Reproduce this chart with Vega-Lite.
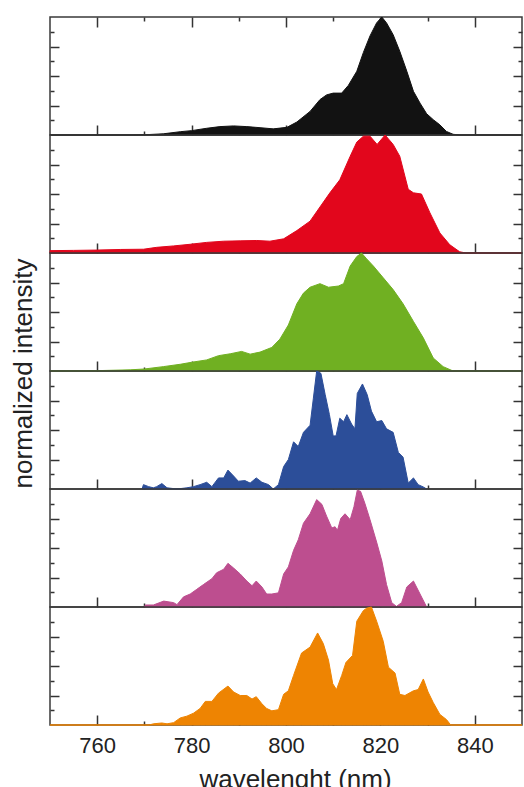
{
  "$schema": "https://vega.github.io/schema/vega-lite/v6.json",
  "background": "white",
  "padding": {"left": 11, "top": 14, "right": 1, "bottom": 0},
  "bounds": "flush",
  "title": {"text": "normalized intensity", "orient": "left", "anchor": "middle", "fontSize": 26, "font": "Liberation Sans", "fontWeight": "normal", "color": "#222222", "offset": 10, "dx": 30},
  "datasets": {
    "spectra": [
      {"p":1,"w":750,"v":0},{"p":1,"w":768,"v":0},{"p":1,"w":771,"v":0.004},{"p":1,"w":774,"v":0.01},{"p":1,"w":777.6,"v":0.028},{"p":1,"w":780,"v":0.037},{"p":1,"w":783.2,"v":0.057},{"p":1,"w":786,"v":0.071},{"p":1,"w":788.9,"v":0.077},{"p":1,"w":791.7,"v":0.071},{"p":1,"w":794.5,"v":0.062},{"p":1,"w":797.3,"v":0.052},{"p":1,"w":800.2,"v":0.065},{"p":1,"w":802.3,"v":0.11},{"p":1,"w":805.1,"v":0.2},{"p":1,"w":807.2,"v":0.3},{"p":1,"w":808.6,"v":0.34},{"p":1,"w":810,"v":0.355},{"p":1,"w":811.8,"v":0.355},{"p":1,"w":813.2,"v":0.42},{"p":1,"w":815,"v":0.54},{"p":1,"w":816.4,"v":0.7},{"p":1,"w":817.8,"v":0.84},{"p":1,"w":819.2,"v":0.95},{"p":1,"w":820.3,"v":1.0},{"p":1,"w":821.3,"v":0.95},{"p":1,"w":822.7,"v":0.85},{"p":1,"w":824.1,"v":0.71},{"p":1,"w":825.6,"v":0.54},{"p":1,"w":827,"v":0.37},{"p":1,"w":828.4,"v":0.27},{"p":1,"w":829.8,"v":0.18},{"p":1,"w":831.2,"v":0.13},{"p":1,"w":832.6,"v":0.086},{"p":1,"w":834,"v":0.03},{"p":1,"w":835.4,"v":0.006},{"p":1,"w":836.8,"v":0},{"p":1,"w":850,"v":0},

      {"p":2,"w":750,"v":0.02},{"p":2,"w":755,"v":0.022},{"p":2,"w":760,"v":0.025},{"p":2,"w":765,"v":0.03},{"p":2,"w":769.8,"v":0.032},{"p":2,"w":772.6,"v":0.048},{"p":2,"w":776.2,"v":0.06},{"p":2,"w":779.7,"v":0.074},{"p":2,"w":783.2,"v":0.09},{"p":2,"w":786.8,"v":0.1},{"p":2,"w":790.3,"v":0.103},{"p":2,"w":793.8,"v":0.106},{"p":2,"w":796.6,"v":0.1},{"p":2,"w":799.5,"v":0.12},{"p":2,"w":802.3,"v":0.19},{"p":2,"w":805.1,"v":0.27},{"p":2,"w":807.2,"v":0.39},{"p":2,"w":809.3,"v":0.51},{"p":2,"w":811.4,"v":0.62},{"p":2,"w":813.6,"v":0.82},{"p":2,"w":815,"v":0.94},{"p":2,"w":816.4,"v":0.99},{"p":2,"w":817.8,"v":0.99},{"p":2,"w":819.3,"v":0.92},{"p":2,"w":821,"v":1.0},{"p":2,"w":822.7,"v":0.92},{"p":2,"w":824.1,"v":0.82},{"p":2,"w":825.9,"v":0.54},{"p":2,"w":827,"v":0.51},{"p":2,"w":828.7,"v":0.5},{"p":2,"w":830.5,"v":0.34},{"p":2,"w":832.6,"v":0.17},{"p":2,"w":834.7,"v":0.07},{"p":2,"w":836.8,"v":0.01},{"p":2,"w":838.2,"v":0},{"p":2,"w":850,"v":0},

      {"p":3,"w":750,"v":0},{"p":3,"w":760,"v":0.003},{"p":3,"w":767,"v":0.01},{"p":3,"w":770,"v":0.017},{"p":3,"w":774,"v":0.037},{"p":3,"w":777.6,"v":0.057},{"p":3,"w":780,"v":0.074},{"p":3,"w":783.2,"v":0.094},{"p":3,"w":785.7,"v":0.13},{"p":3,"w":788.2,"v":0.146},{"p":3,"w":790.6,"v":0.166},{"p":3,"w":792.4,"v":0.143},{"p":3,"w":794.5,"v":0.16},{"p":3,"w":797,"v":0.2},{"p":3,"w":798.7,"v":0.27},{"p":3,"w":800.5,"v":0.39},{"p":3,"w":802.3,"v":0.57},{"p":3,"w":803.7,"v":0.66},{"p":3,"w":805.1,"v":0.71},{"p":3,"w":807.2,"v":0.74},{"p":3,"w":809,"v":0.71},{"p":3,"w":811.1,"v":0.72},{"p":3,"w":812.2,"v":0.74},{"p":3,"w":813.6,"v":0.89},{"p":3,"w":815,"v":0.97},{"p":3,"w":816,"v":1.0},{"p":3,"w":817.1,"v":0.95},{"p":3,"w":818.5,"v":0.89},{"p":3,"w":820.6,"v":0.79},{"p":3,"w":822.7,"v":0.69},{"p":3,"w":824.8,"v":0.57},{"p":3,"w":827,"v":0.42},{"p":3,"w":829.1,"v":0.28},{"p":3,"w":831.2,"v":0.11},{"p":3,"w":833.3,"v":0.037},{"p":3,"w":835.4,"v":0},{"p":3,"w":850,"v":0},

      {"p":4,"w":769.5,"v":0},{"p":4,"w":769.8,"v":0.037},{"p":4,"w":770.9,"v":0.02},{"p":4,"w":771.9,"v":0.01},{"p":4,"w":772.6,"v":0.02},{"p":4,"w":773.7,"v":0.046},{"p":4,"w":774.8,"v":0.01},{"p":4,"w":776.9,"v":0},{"p":4,"w":779,"v":0.01},{"p":4,"w":780.4,"v":0.02},{"p":4,"w":781.8,"v":0.037},{"p":4,"w":783.2,"v":0.057},{"p":4,"w":784.3,"v":0.02},{"p":4,"w":785.7,"v":0.094},{"p":4,"w":786.8,"v":0.094},{"p":4,"w":787.7,"v":0.16},{"p":4,"w":788.9,"v":0.11},{"p":4,"w":789.9,"v":0.066},{"p":4,"w":791.3,"v":0.071},{"p":4,"w":792.4,"v":0.05},{"p":4,"w":793.7,"v":0.094},{"p":4,"w":794.9,"v":0.057},{"p":4,"w":796.3,"v":0.037},{"p":4,"w":797.3,"v":0},{"p":4,"w":798.4,"v":0.037},{"p":4,"w":799.5,"v":0.19},{"p":4,"w":800.5,"v":0.25},{"p":4,"w":801.6,"v":0.4},{"p":4,"w":802.6,"v":0.36},{"p":4,"w":803.7,"v":0.48},{"p":4,"w":805.1,"v":0.54},{"p":4,"w":805.8,"v":0.77},{"p":4,"w":806.5,"v":1.0},{"p":4,"w":807.4,"v":0.98},{"p":4,"w":808.3,"v":0.8},{"p":4,"w":809.2,"v":0.63},{"p":4,"w":810,"v":0.45},{"p":4,"w":810.6,"v":0.45},{"p":4,"w":811.4,"v":0.6},{"p":4,"w":812.2,"v":0.57},{"p":4,"w":812.9,"v":0.63},{"p":4,"w":813.9,"v":0.55},{"p":4,"w":814.6,"v":0.51},{"p":4,"w":815.1,"v":0.81},{"p":4,"w":816.2,"v":0.89},{"p":4,"w":817.2,"v":0.8},{"p":4,"w":818.1,"v":0.66},{"p":4,"w":819.2,"v":0.57},{"p":4,"w":820.3,"v":0.58},{"p":4,"w":821.3,"v":0.51},{"p":4,"w":822.7,"v":0.48},{"p":4,"w":823.8,"v":0.31},{"p":4,"w":824.8,"v":0.27},{"p":4,"w":825.9,"v":0.05},{"p":4,"w":827,"v":0.094},{"p":4,"w":828,"v":0.037},{"p":4,"w":829.1,"v":0.017},{"p":4,"w":829.8,"v":0},

      {"p":5,"w":770,"v":0},{"p":5,"w":770.2,"v":0.017},{"p":5,"w":771.9,"v":0.017},{"p":5,"w":774.1,"v":0.05},{"p":5,"w":776.2,"v":0.037},{"p":5,"w":776.9,"v":0.02},{"p":5,"w":778.3,"v":0.086},{"p":5,"w":779.7,"v":0.11},{"p":5,"w":781.1,"v":0.15},{"p":5,"w":782.5,"v":0.19},{"p":5,"w":784.3,"v":0.24},{"p":5,"w":785.3,"v":0.29},{"p":5,"w":786.8,"v":0.32},{"p":5,"w":787.7,"v":0.37},{"p":5,"w":788.9,"v":0.33},{"p":5,"w":790.3,"v":0.28},{"p":5,"w":791.7,"v":0.22},{"p":5,"w":792.8,"v":0.18},{"p":5,"w":793.7,"v":0.22},{"p":5,"w":794.9,"v":0.17},{"p":5,"w":795.9,"v":0.11},{"p":5,"w":797,"v":0.11},{"p":5,"w":798.4,"v":0.12},{"p":5,"w":799.5,"v":0.28},{"p":5,"w":800.5,"v":0.34},{"p":5,"w":801.6,"v":0.48},{"p":5,"w":802.6,"v":0.57},{"p":5,"w":803.7,"v":0.71},{"p":5,"w":805.1,"v":0.79},{"p":5,"w":806.5,"v":0.91},{"p":5,"w":807.6,"v":0.87},{"p":5,"w":808.6,"v":0.77},{"p":5,"w":809.7,"v":0.67},{"p":5,"w":810.4,"v":0.68},{"p":5,"w":810.9,"v":0.65},{"p":5,"w":811.6,"v":0.75},{"p":5,"w":812.5,"v":0.79},{"p":5,"w":813.6,"v":0.74},{"p":5,"w":814.4,"v":0.85},{"p":5,"w":815.1,"v":0.99},{"p":5,"w":815.8,"v":0.98},{"p":5,"w":816.7,"v":0.88},{"p":5,"w":817.8,"v":0.74},{"p":5,"w":819.2,"v":0.55},{"p":5,"w":820.3,"v":0.39},{"p":5,"w":821.3,"v":0.19},{"p":5,"w":822.4,"v":0.037},{"p":5,"w":823.4,"v":0.005},{"p":5,"w":824.5,"v":0.037},{"p":5,"w":825.6,"v":0.17},{"p":5,"w":827,"v":0.22},{"p":5,"w":828.4,"v":0.11},{"p":5,"w":829.8,"v":0},

      {"p":6,"w":750,"v":0},{"p":6,"w":771,"v":0},{"p":6,"w":771.9,"v":0.01},{"p":6,"w":773.7,"v":0.017},{"p":6,"w":774.8,"v":0.01},{"p":6,"w":776.2,"v":0.02},{"p":6,"w":777.6,"v":0.06},{"p":6,"w":779,"v":0.075},{"p":6,"w":780.4,"v":0.1},{"p":6,"w":781.8,"v":0.14},{"p":6,"w":782.9,"v":0.2},{"p":6,"w":784.3,"v":0.2},{"p":6,"w":785.7,"v":0.27},{"p":6,"w":787.7,"v":0.33},{"p":6,"w":788.9,"v":0.28},{"p":6,"w":790.3,"v":0.25},{"p":6,"w":791.7,"v":0.25},{"p":6,"w":792.8,"v":0.22},{"p":6,"w":793.7,"v":0.24},{"p":6,"w":794.9,"v":0.18},{"p":6,"w":795.9,"v":0.14},{"p":6,"w":797,"v":0.12},{"p":6,"w":798.4,"v":0.13},{"p":6,"w":799.5,"v":0.26},{"p":6,"w":800.5,"v":0.29},{"p":6,"w":801.6,"v":0.42},{"p":6,"w":803.3,"v":0.61},{"p":6,"w":805.1,"v":0.66},{"p":6,"w":806.7,"v":0.78},{"p":6,"w":807.9,"v":0.69},{"p":6,"w":809,"v":0.55},{"p":6,"w":809.9,"v":0.35},{"p":6,"w":810.7,"v":0.3},{"p":6,"w":811.8,"v":0.42},{"p":6,"w":812.7,"v":0.53},{"p":6,"w":814.1,"v":0.59},{"p":6,"w":815,"v":0.88},{"p":6,"w":816.4,"v":0.97},{"p":6,"w":817.1,"v":0.99},{"p":6,"w":818.1,"v":1.0},{"p":6,"w":819.2,"v":0.88},{"p":6,"w":820.6,"v":0.71},{"p":6,"w":821.7,"v":0.49},{"p":6,"w":823.1,"v":0.44},{"p":6,"w":824.1,"v":0.26},{"p":6,"w":825.2,"v":0.25},{"p":6,"w":827,"v":0.29},{"p":6,"w":828,"v":0.3},{"p":6,"w":829.1,"v":0.39},{"p":6,"w":830.1,"v":0.28},{"p":6,"w":831.2,"v":0.19},{"p":6,"w":832.6,"v":0.09},{"p":6,"w":834,"v":0.046},{"p":6,"w":834.9,"v":0},{"p":6,"w":850,"v":0}
    ]
  },
  "data": {"name": "spectra"},
  "spacing": 0,
  "vconcat": [
    {
      "width": 472, "height": 118,
      "transform": [{"filter": "datum.p == 1"}],
      "layer": [
        {"mark": {"type": "area", "color": "#121212", "stroke": "#121212", "strokeWidth": 1},
         "encoding": {"x": {"field": "w", "type": "quantitative", "scale": {"domain": [750, 850], "nice": false, "zero": false}, "axis": {"orient": "bottom", "values": [760, 780, 800, 820, 840], "tickSize": -10, "labels": false, "title": null}},
                      "y": {"field": "v", "type": "quantitative", "scale": {"domain": [0, 1], "nice": false}, "axis": {"orient": "left", "values": [0.25, 0.5, 0.75], "tickSize": -9, "labels": false, "title": null}}}},
        {"mark": {"type": "area", "opacity": 0},
         "encoding": {"x": {"field": "w", "type": "quantitative", "axis": {"orient": "bottom", "values": [770, 790, 810, 830], "tickSize": -4, "labels": false, "title": null}},
                      "y": {"field": "v", "type": "quantitative", "axis": {"orient": "left", "values": [0.125, 0.375, 0.625, 0.875], "tickSize": -4, "labels": false, "title": null}}}},
        {"mark": {"type": "area", "opacity": 0},
         "encoding": {"x": {"field": "w", "type": "quantitative", "axis": {"orient": "top", "values": [760, 780, 800, 820, 840], "tickSize": -10, "labels": false, "title": null}},
                      "y": {"field": "v", "type": "quantitative", "axis": {"orient": "right", "values": [0.25, 0.5, 0.75], "tickSize": -9, "labels": false, "title": null}}}},
        {"mark": {"type": "area", "opacity": 0},
         "encoding": {"x": {"field": "w", "type": "quantitative", "axis": {"orient": "top", "values": [770, 790, 810, 830], "tickSize": -4, "labels": false, "title": null}},
                      "y": {"field": "v", "type": "quantitative", "axis": {"orient": "right", "values": [0.125, 0.375, 0.625, 0.875], "tickSize": -4, "labels": false, "title": null}}}}
      ],
      "resolve": {"axis": {"x": "independent", "y": "independent"}}
    },
    {
      "width": 472, "height": 118,
      "transform": [{"filter": "datum.p == 2"}],
      "layer": [
        {"mark": {"type": "area", "color": "#e2061c", "stroke": "#e2061c", "strokeWidth": 1},
         "encoding": {"x": {"field": "w", "type": "quantitative", "scale": {"domain": [750, 850], "nice": false, "zero": false}, "axis": {"orient": "bottom", "values": [760, 780, 800, 820, 840], "tickSize": -10, "labels": false, "title": null}},
                      "y": {"field": "v", "type": "quantitative", "scale": {"domain": [0, 1], "nice": false}, "axis": {"orient": "left", "values": [0.25, 0.5, 0.75], "tickSize": -9, "labels": false, "title": null}}}},
        {"mark": {"type": "area", "opacity": 0},
         "encoding": {"x": {"field": "w", "type": "quantitative", "axis": {"orient": "bottom", "values": [770, 790, 810, 830], "tickSize": -4, "labels": false, "title": null}},
                      "y": {"field": "v", "type": "quantitative", "axis": {"orient": "left", "values": [0.125, 0.375, 0.625, 0.875], "tickSize": -4, "labels": false, "title": null}}}},
        {"mark": {"type": "area", "opacity": 0},
         "encoding": {"x": {"field": "w", "type": "quantitative", "axis": null},
                      "y": {"field": "v", "type": "quantitative", "axis": {"orient": "right", "values": [0.25, 0.5, 0.75], "tickSize": -9, "labels": false, "title": null}}}},
        {"mark": {"type": "area", "opacity": 0},
         "encoding": {"x": {"field": "w", "type": "quantitative", "axis": null},
                      "y": {"field": "v", "type": "quantitative", "axis": {"orient": "right", "values": [0.125, 0.375, 0.625, 0.875], "tickSize": -4, "labels": false, "title": null}}}}
      ],
      "resolve": {"axis": {"x": "independent", "y": "independent"}}
    },
    {
      "width": 472, "height": 118,
      "transform": [{"filter": "datum.p == 3"}],
      "layer": [
        {"mark": {"type": "area", "color": "#70b022", "stroke": "#70b022", "strokeWidth": 1},
         "encoding": {"x": {"field": "w", "type": "quantitative", "scale": {"domain": [750, 850], "nice": false, "zero": false}, "axis": {"orient": "bottom", "values": [760, 780, 800, 820, 840], "tickSize": -10, "labels": false, "title": null}},
                      "y": {"field": "v", "type": "quantitative", "scale": {"domain": [0, 1], "nice": false}, "axis": {"orient": "left", "values": [0.25, 0.5, 0.75], "tickSize": -9, "labels": false, "title": null}}}},
        {"mark": {"type": "area", "opacity": 0},
         "encoding": {"x": {"field": "w", "type": "quantitative", "axis": {"orient": "bottom", "values": [770, 790, 810, 830], "tickSize": -4, "labels": false, "title": null}},
                      "y": {"field": "v", "type": "quantitative", "axis": {"orient": "left", "values": [0.125, 0.375, 0.625, 0.875], "tickSize": -4, "labels": false, "title": null}}}},
        {"mark": {"type": "area", "opacity": 0},
         "encoding": {"x": {"field": "w", "type": "quantitative", "axis": null},
                      "y": {"field": "v", "type": "quantitative", "axis": {"orient": "right", "values": [0.25, 0.5, 0.75], "tickSize": -9, "labels": false, "title": null}}}},
        {"mark": {"type": "area", "opacity": 0},
         "encoding": {"x": {"field": "w", "type": "quantitative", "axis": null},
                      "y": {"field": "v", "type": "quantitative", "axis": {"orient": "right", "values": [0.125, 0.375, 0.625, 0.875], "tickSize": -4, "labels": false, "title": null}}}}
      ],
      "resolve": {"axis": {"x": "independent", "y": "independent"}}
    },
    {
      "width": 472, "height": 118,
      "transform": [{"filter": "datum.p == 4"}],
      "layer": [
        {"mark": {"type": "area", "color": "#2c4e99", "stroke": "#2c4e99", "strokeWidth": 1},
         "encoding": {"x": {"field": "w", "type": "quantitative", "scale": {"domain": [750, 850], "nice": false, "zero": false}, "axis": {"orient": "bottom", "values": [760, 780, 800, 820, 840], "tickSize": -10, "labels": false, "title": null}},
                      "y": {"field": "v", "type": "quantitative", "scale": {"domain": [0, 1], "nice": false}, "axis": {"orient": "left", "values": [0.25, 0.5, 0.75], "tickSize": -9, "labels": false, "title": null}}}},
        {"mark": {"type": "area", "opacity": 0},
         "encoding": {"x": {"field": "w", "type": "quantitative", "axis": {"orient": "bottom", "values": [770, 790, 810, 830], "tickSize": -4, "labels": false, "title": null}},
                      "y": {"field": "v", "type": "quantitative", "axis": {"orient": "left", "values": [0.125, 0.375, 0.625, 0.875], "tickSize": -4, "labels": false, "title": null}}}},
        {"mark": {"type": "area", "opacity": 0},
         "encoding": {"x": {"field": "w", "type": "quantitative", "axis": null},
                      "y": {"field": "v", "type": "quantitative", "axis": {"orient": "right", "values": [0.25, 0.5, 0.75], "tickSize": -9, "labels": false, "title": null}}}},
        {"mark": {"type": "area", "opacity": 0},
         "encoding": {"x": {"field": "w", "type": "quantitative", "axis": null},
                      "y": {"field": "v", "type": "quantitative", "axis": {"orient": "right", "values": [0.125, 0.375, 0.625, 0.875], "tickSize": -4, "labels": false, "title": null}}}}
      ],
      "resolve": {"axis": {"x": "independent", "y": "independent"}}
    },
    {
      "width": 472, "height": 118,
      "transform": [{"filter": "datum.p == 5"}],
      "layer": [
        {"mark": {"type": "area", "color": "#bd4e8f", "stroke": "#bd4e8f", "strokeWidth": 1},
         "encoding": {"x": {"field": "w", "type": "quantitative", "scale": {"domain": [750, 850], "nice": false, "zero": false}, "axis": {"orient": "bottom", "values": [760, 780, 800, 820, 840], "tickSize": -10, "labels": false, "title": null}},
                      "y": {"field": "v", "type": "quantitative", "scale": {"domain": [0, 1], "nice": false}, "axis": {"orient": "left", "values": [0.25, 0.5, 0.75], "tickSize": -9, "labels": false, "title": null}}}},
        {"mark": {"type": "area", "opacity": 0},
         "encoding": {"x": {"field": "w", "type": "quantitative", "axis": {"orient": "bottom", "values": [770, 790, 810, 830], "tickSize": -4, "labels": false, "title": null}},
                      "y": {"field": "v", "type": "quantitative", "axis": {"orient": "left", "values": [0.125, 0.375, 0.625, 0.875], "tickSize": -4, "labels": false, "title": null}}}},
        {"mark": {"type": "area", "opacity": 0},
         "encoding": {"x": {"field": "w", "type": "quantitative", "axis": null},
                      "y": {"field": "v", "type": "quantitative", "axis": {"orient": "right", "values": [0.25, 0.5, 0.75], "tickSize": -9, "labels": false, "title": null}}}},
        {"mark": {"type": "area", "opacity": 0},
         "encoding": {"x": {"field": "w", "type": "quantitative", "axis": null},
                      "y": {"field": "v", "type": "quantitative", "axis": {"orient": "right", "values": [0.125, 0.375, 0.625, 0.875], "tickSize": -4, "labels": false, "title": null}}}}
      ],
      "resolve": {"axis": {"x": "independent", "y": "independent"}}
    },
    {
      "width": 472, "height": 118,
      "transform": [{"filter": "datum.p == 6"}],
      "layer": [
        {"mark": {"type": "area", "color": "#ee8402", "stroke": "#ee8402", "strokeWidth": 1},
         "encoding": {"x": {"field": "w", "type": "quantitative", "scale": {"domain": [750, 850], "nice": false, "zero": false}, "axis": {"orient": "bottom", "values": [760, 780, 800, 820, 840], "tickSize": -10, "labelPadding": 20, "title": "wavelenght (nm)", "titlePadding": 10, "titleX": 245}},
                      "y": {"field": "v", "type": "quantitative", "scale": {"domain": [0, 1], "nice": false}, "axis": {"orient": "left", "values": [0.25, 0.5, 0.75], "tickSize": -9, "labels": false, "title": null}}}},
        {"mark": {"type": "area", "opacity": 0},
         "encoding": {"x": {"field": "w", "type": "quantitative", "axis": {"orient": "bottom", "values": [770, 790, 810, 830], "tickSize": -4, "labels": false, "title": null}},
                      "y": {"field": "v", "type": "quantitative", "axis": {"orient": "left", "values": [0.125, 0.375, 0.625, 0.875], "tickSize": -4, "labels": false, "title": null}}}},
        {"mark": {"type": "area", "opacity": 0},
         "encoding": {"x": {"field": "w", "type": "quantitative", "axis": null},
                      "y": {"field": "v", "type": "quantitative", "axis": {"orient": "right", "values": [0.25, 0.5, 0.75], "tickSize": -9, "labels": false, "title": null}}}},
        {"mark": {"type": "area", "opacity": 0},
         "encoding": {"x": {"field": "w", "type": "quantitative", "axis": null},
                      "y": {"field": "v", "type": "quantitative", "axis": {"orient": "right", "values": [0.125, 0.375, 0.625, 0.875], "tickSize": -4, "labels": false, "title": null}}}}
      ],
      "resolve": {"axis": {"x": "independent", "y": "independent"}}
    }
  ],
  "config": {
    "view": {"stroke": "#3a3a3a", "strokeWidth": 1.5},
    "axis": {"domain": false, "grid": false, "tickColor": "#333333", "tickWidth": 1.5, "labelFont": "Liberation Sans", "labelFontSize": 22, "labelColor": "#222222", "titleFont": "Liberation Sans", "titleFontSize": 26, "titleFontWeight": "normal", "titleColor": "#222222"}
  }
}
